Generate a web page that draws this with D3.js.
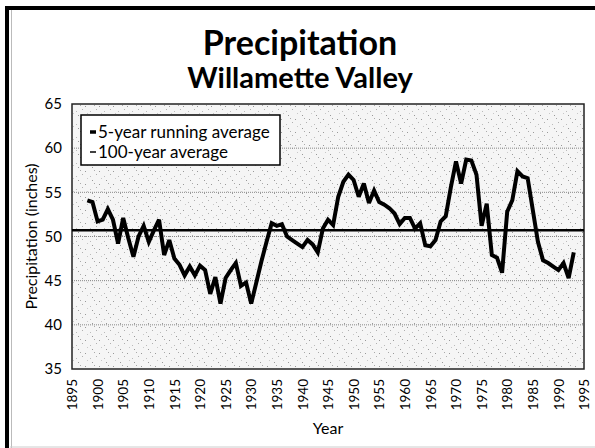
<!DOCTYPE html>
<html>
<head>
<meta charset="utf-8">
<script src="https://cdn.jsdelivr.net/npm/d3@7"></script>
<style>
  body { margin: 0; background: #fff; }
  svg { display: block; font-family: Lato, "Open Sans", sans-serif; }
</style>
</head>
<body>
<script>
// annual points of the 5-year running average, 1898-1993 (inches)
var years = d3.range(1898, 1994);
var precip = [
  54.1, 53.9, 51.7, 51.9, 53.1, 51.9, 49.2, 52.1, 49.8, 47.7,
  50.0, 51.2, 49.4, 50.7, 51.9, 47.9, 49.6, 47.5, 46.8, 45.6,
  46.6, 45.6, 46.7, 46.2, 43.5, 45.4, 42.4, 45.3, 46.2, 47.0,
  44.4, 44.8, 42.4, 44.8, 47.2, 49.4, 51.5, 51.2, 51.4, 50.0,
  49.6, 49.2, 48.8, 49.6, 49.1, 48.2, 50.9, 51.9, 51.3, 54.5,
  56.2, 57.0, 56.4, 54.5, 56.0, 53.8, 55.2, 53.9, 53.6, 53.2,
  52.6, 51.4, 52.1, 52.1, 50.9, 51.5, 49.0, 48.9, 49.6, 51.7,
  52.3, 55.6, 58.5, 56.0, 58.7, 58.6, 57.0, 51.2, 53.7, 47.9,
  47.6, 45.9, 52.8, 54.1, 57.4, 56.8, 56.6, 53.0, 49.4, 47.3,
  47.0, 46.6, 46.2, 47.0, 45.3, 48.2
];
var centuryAvg = 50.7;
var xTicks = d3.range(1895, 2000, 5);
var yTicks = [35, 40, 45, 50, 55, 60, 65];
var gridValues = [40, 45, 50, 55, 60];
var legendLabels = ["5-year running average", "100-year average"];

var W = 595, H = 448;
var plot = { left: 72, right: 584, top: 104, bottom: 369 };

var svg = d3.select("body").append("svg")
  .attr("width", W).attr("height", H);

// outer frame
svg.append("line").attr("x1", 5).attr("x2", W).attr("y1", 8).attr("y2", 8)
  .attr("stroke", "#000").attr("stroke-width", 4);
svg.append("line").attr("x1", 7).attr("x2", 7).attr("y1", 6).attr("y2", H)
  .attr("stroke", "#000").attr("stroke-width", 4);
svg.append("line").attr("x1", 11.5).attr("x2", 11.5).attr("y1", 10).attr("y2", H)
  .attr("stroke", "#bbb").attr("stroke-width", 1);
svg.append("line").attr("x1", 10).attr("x2", W).attr("y1", 447).attr("y2", 447)
  .attr("stroke", "#ccc").attr("stroke-width", 1);

// titles
svg.append("text").attr("x", 300).attr("y", 55)
  .attr("text-anchor", "middle").style("font-size", "34px").style("font-weight", "bold")
  .text("Precipitation");
svg.append("text").attr("x", 300).attr("y", 88)
  .attr("text-anchor", "middle").style("font-size", "29px").style("font-weight", "bold")
  .text("Willamette Valley");

var x = d3.scaleLinear().domain([1895, 1995]).range([plot.left, plot.right]);
var y = d3.scaleLinear().domain([35, 65]).range([plot.bottom, plot.top]);

// stippled plot background
var dots = [[1, 2, "#999"], [6, 7, "#bbb"], [10, 1, "#aaa"], [3, 9, "#c8c8c8"], [12, 5, "#b0b0b0"], [8, 11, "#999"]];
var pat = svg.append("defs").append("pattern")
  .attr("id", "stip").attr("width", 14).attr("height", 13)
  .attr("patternUnits", "userSpaceOnUse");
pat.append("rect").attr("width", 14).attr("height", 13).attr("fill", "#f5f5f5");
pat.selectAll("rect.dot").data(dots).enter().append("rect")
  .attr("class", "dot")
  .attr("x", function (d) { return d[0]; }).attr("y", function (d) { return d[1]; })
  .attr("width", 1).attr("height", 1)
  .attr("fill", function (d) { return d[2]; });

svg.append("rect")
  .attr("x", plot.left).attr("y", plot.top)
  .attr("width", plot.right - plot.left).attr("height", plot.bottom - plot.top)
  .attr("fill", "url(#stip)");

// dotted gridlines
svg.append("g").selectAll("line").data(gridValues).enter().append("line")
  .attr("x1", plot.left).attr("x2", plot.right)
  .attr("y1", function (d) { return y(d); }).attr("y2", function (d) { return y(d); })
  .attr("stroke", "#888").attr("stroke-width", 1).attr("stroke-dasharray", "1,1");

svg.append("rect")
  .attr("x", plot.left).attr("y", plot.top)
  .attr("width", plot.right - plot.left).attr("height", plot.bottom - plot.top)
  .attr("fill", "none").attr("stroke", "#222").attr("stroke-width", 1.5);

// y axis
var yAxis = d3.axisLeft(y).tickValues(yTicks).tickSize(0).tickPadding(10);
var gy = svg.append("g").attr("transform", "translate(" + plot.left + ",0)").call(yAxis);
gy.select(".domain").remove();
gy.selectAll("text").style("font-size", "15px").style("font-family", "Lato, sans-serif").attr("fill", "#000");

// x axis with vertical labels
var xAxis = d3.axisBottom(x).tickValues(xTicks).tickSize(0).tickFormat(d3.format("d"));
var gx = svg.append("g").attr("transform", "translate(0," + plot.bottom + ")").call(xAxis);
gx.select(".domain").remove();
gx.selectAll("text")
  .style("font-size", "13.5px").style("font-family", "Lato, sans-serif").attr("fill", "#000")
  .attr("transform", "rotate(-90)")
  .attr("x", -10).attr("y", 0).attr("dy", "0.35em")
  .style("text-anchor", "end");

svg.append("text").attr("x", (plot.left + plot.right) / 2).attr("y", 434)
  .attr("text-anchor", "middle").style("font-size", "16px").text("Year");
svg.append("text")
  .attr("transform", "translate(31," + (plot.top + plot.bottom) / 2 + ") rotate(-90)")
  .attr("text-anchor", "middle").attr("dy", "0.35em").style("font-size", "16px")
  .text("Precipitation (inches)");

// 100-year average
svg.append("line")
  .attr("x1", plot.left).attr("x2", plot.right)
  .attr("y1", y(centuryAvg)).attr("y2", y(centuryAvg))
  .attr("stroke", "#000").attr("stroke-width", 2.5);

// running average line
var line = d3.line()
  .x(function (d, i) { return x(years[i]); })
  .y(function (d) { return y(d); });
svg.append("path").datum(precip)
  .attr("d", line)
  .attr("fill", "none").attr("stroke", "#000")
  .attr("stroke-width", 4).attr("stroke-linejoin", "miter").attr("stroke-miterlimit", 3);

// legend
var lg = svg.append("g").attr("transform", "translate(81,115)");
lg.append("rect").attr("width", 199).attr("height", 50)
  .attr("fill", "#fff").attr("stroke", "#000").attr("stroke-width", 1.5);
lg.selectAll("line.key").data(legendLabels).enter().append("line")
  .attr("class", "key")
  .attr("x1", 9).attr("x2", 15)
  .attr("y1", function (d, i) { return 17 + i * 20; })
  .attr("y2", function (d, i) { return 17 + i * 20; })
  .attr("stroke", "#000")
  .attr("stroke-width", function (d, i) { return i === 0 ? 3.5 : 1.5; });
lg.selectAll("text").data(legendLabels).enter().append("text")
  .attr("x", 17).attr("y", function (d, i) { return 23 + i * 20; })
  .style("font-size", "17px")
  .text(function (d) { return d; });
</script>
</body>
</html>
